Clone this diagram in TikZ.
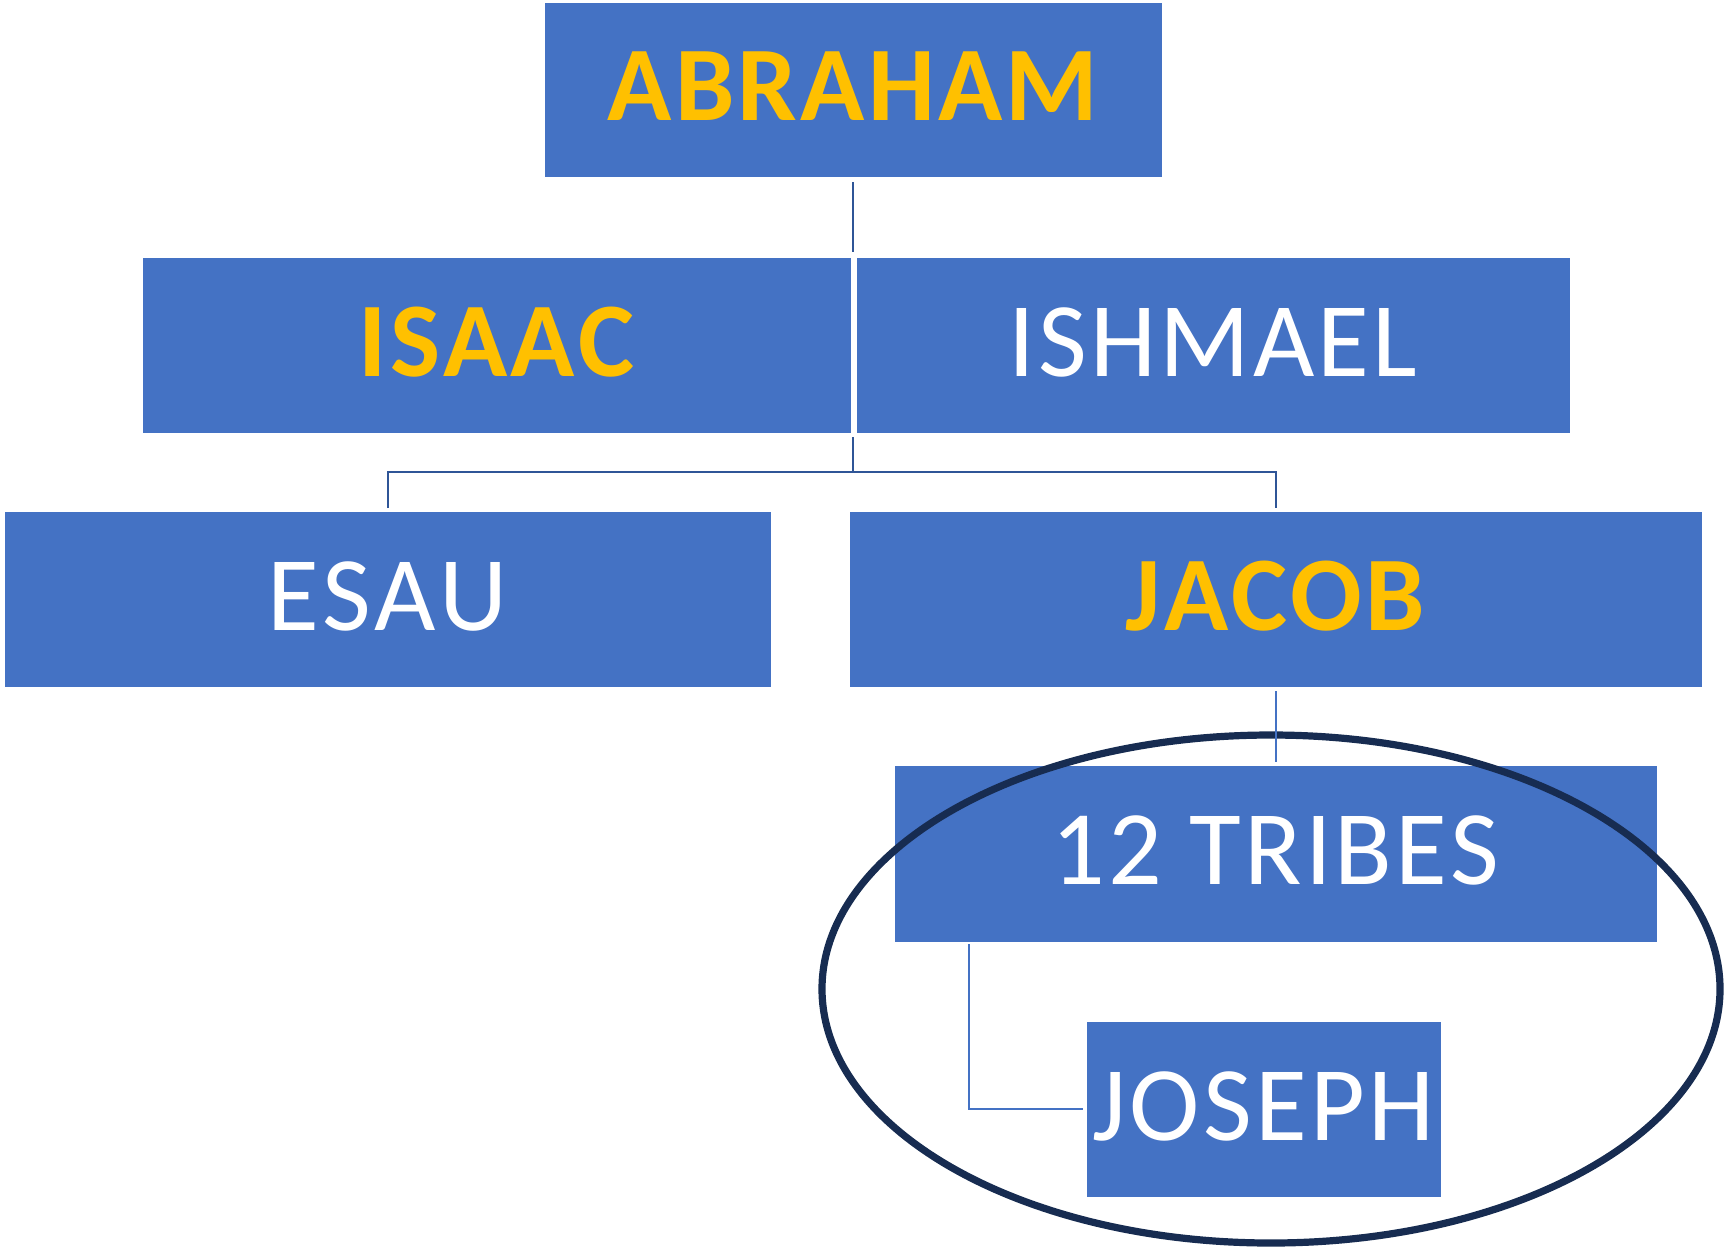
\documentclass[tikz,border=0pt]{standalone}
\usepackage{fontspec}
\setmainfont{Carlito}[Kerning=Off, LetterSpace=3]
\definecolor{boxblue}{HTML}{4472C4}
\definecolor{gold}{HTML}{FFC000}
\definecolor{connblue}{HTML}{2F5597}
\definecolor{navy}{HTML}{172C51}
\tikzset{
  famnode/.style={rectangle, fill=boxblue, draw=white, line width=0.5pt, inner sep=0pt, outer sep=0pt,
    font=\fontsize{53}{60}\selectfont, text=white, text height=35pt, text depth=4pt},
  keynode/.style={famnode, font=\fontsize{53}{60}\selectfont\bfseries, text=gold},
  conn/.style={draw=connblue, line width=1pt},
  connlight/.style={draw=boxblue, line width=1pt},
  ring/.style={draw=navy, line width=3.6pt}
}
\begin{document}
\begin{tikzpicture}[x=0.5pt,y=-0.5pt]
\useasboundingbox (0,0) rectangle (1727,1248);
\coordinate (j) at (853,471.5);
\node[keynode, minimum width=309pt, minimum height=87.5pt] (abraham) at (853,89.5) {ABRAHAM};
\path (853,345) coordinate (gap);
\draw[conn] ([yshift=-2.5pt]abraham.south) -- ([yshift=2.5pt]gap |- 0,257);
\draw[conn] ([yshift=-2pt]gap |- 0,433) -- (j);
\node[keynode, minimum width=354.5pt, minimum height=88pt] (isaac) at (496.5,345) {ISAAC};
\node[famnode, minimum width=357pt, minimum height=88pt] (ishmael) at (1213,345) {ISHMAEL};
\node[famnode, minimum width=383.5pt, minimum height=88pt] (esau) at (387.5,599) {ESAU};
\node[keynode, minimum width=426.5pt, minimum height=88pt] (jacob) at (1275.5,599) {JACOB};
\draw[conn] ([yshift=1.5pt]esau.north) |- (j) -| ([yshift=1.5pt]jacob.north);
\node[famnode, minimum width=381.5pt, minimum height=88.5pt] (tribes) at (1275.5,853.5) {12 TRIBES};
\node[famnode, minimum width=177.5pt, minimum height=88pt] (joseph) at (1263.5,1109) {JOSEPH};
\draw[ring] (1271,989) ellipse [x radius=224.5pt, y radius=127pt];
\draw[connlight] ([yshift=-2pt]jacob.south) -- ([yshift=1.5pt]tribes.north);
\coordinate (tj) at (969,945);
\draw[connlight] (tj |- tribes.south) ++(0,2) |- ([xshift=-1.5pt]joseph.west);
\end{tikzpicture}
\end{document}
